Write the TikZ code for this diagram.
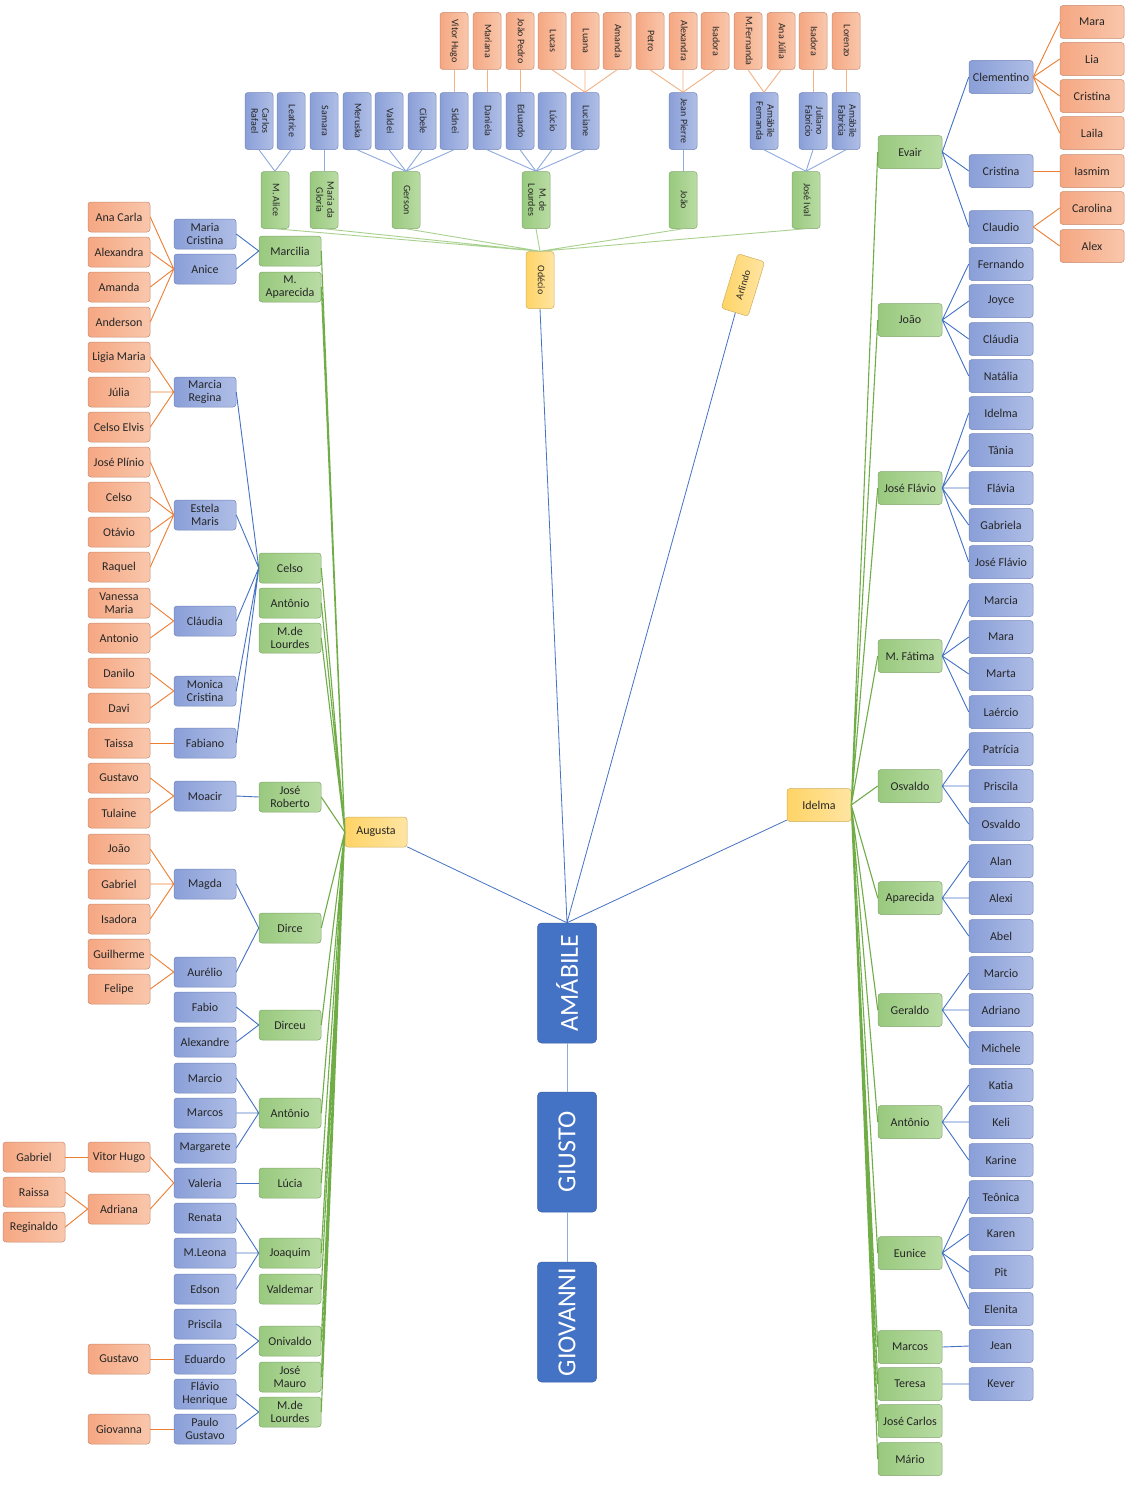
\documentclass[tikz,border=0pt]{standalone}
\usepackage{fontspec}
\setmainfont{Carlito}

\definecolor{ink}{HTML}{262626}
\definecolor{oa}{HTML}{F5A782}
\definecolor{ob}{HTML}{F9C7AC}
\definecolor{od}{HTML}{C98C70}
\definecolor{ba}{HTML}{8A9FD8}
\definecolor{bb}{HTML}{AFBEE6}
\definecolor{bd}{HTML}{7486BC}
\definecolor{ga}{HTML}{99C97E}
\definecolor{gb}{HTML}{B9DCA4}
\definecolor{gd}{HTML}{82A86E}
\definecolor{ya}{HTML}{FFD466}
\definecolor{yb}{HTML}{FFE5A3}
\definecolor{yd}{HTML}{CFAE5C}
\definecolor{main}{HTML}{4472C4}
\definecolor{lo}{HTML}{ED7D31}
\definecolor{lb}{HTML}{4472C4}
\definecolor{lg}{HTML}{70AD47}
\definecolor{llo}{HTML}{F4B183}
\definecolor{llb}{HTML}{8FAADC}
\definecolor{llg}{HTML}{A9D18E}

\newcommand{\vtext}[1]{\rotatebox{-90}{\begin{tabular}{@{}c@{}}#1\end{tabular}}}

\begin{document}
\begin{tikzpicture}[x=1pt, y=-1pt]

    \tikzstyle{box} = [rectangle, rounded corners=3pt, minimum width=62pt, minimum height=30pt, inner sep=1pt, align=center, text=ink, line width=0.5pt, font=\fontsize{12}{13}\selectfont]
    \tikzstyle{obox} = [box, draw=od, left color=oa, right color=ob]
    \tikzstyle{bbox} = [box, draw=bd, left color=ba, right color=bb]
    \tikzstyle{gbox} = [box, draw=gd, left color=ga, right color=gb]
    \tikzstyle{ybox} = [box, draw=yd, left color=ya, right color=yb]
    \tikzstyle{mbox} = [box, rounded corners=4pt, draw=main!85!black, fill=main, text=white, minimum width=59pt, minimum height=120pt, font=\fontsize{26}{28}\selectfont]
    \tikzstyle{rsize} = [minimum width=64pt, minimum height=33pt]
    \tikzstyle{tsize} = [minimum width=28pt, minimum height=57pt, font=\fontsize{10}{11}\selectfont]
    \tikzstyle{oline} = [draw=lo, line width=0.9pt]
    \tikzstyle{bline} = [draw=lb, line width=0.9pt]
    \tikzstyle{gline} = [draw=lg, line width=1.1pt]
    \tikzstyle{toline} = [draw=llo, line width=0.9pt]
    \tikzstyle{tbline} = [draw=llb, line width=0.9pt]
    \tikzstyle{tgline} = [draw=llg, line width=0.9pt]

    \path [use as bounding box, fill=white] (0,0) rectangle (1134,1512);

    % trunk
    \node [mbox] (amabile) at (567,983) {\rotatebox{90}{AMÁBILE}};
    \node [mbox] (giusto) at (567,1152) {\rotatebox{90}{GIUSTO}};
    \node [mbox] (giovanni) at (567,1322) {\rotatebox{90}{GIOVANNI}};
    \node [ybox] (augusta) at (376,832) {Augusta};
    \node [ybox, rsize] (idelma) at (819,805) {Idelma};
    \node [ybox, tsize] (odecio) at (540,280) {\vtext{Odécio}};
    \node [ybox, minimum width=57pt, minimum height=28pt, font=\fontsize{10}{11}\selectfont, rotate=73] (arlindo) at (743,285) {Arlindo};

    % left side, Augusta
    \node [gbox] (marcilia) at (290,251) {Marcilia};
    \node [gbox] (maparecida) at (290,287) {M.\\Aparecida};
    \node [gbox] (celso) at (290,568) {Celso};
    \node [gbox] (antonio) at (290,603) {Antônio};
    \node [gbox] (mlourdes) at (290,638) {M.de\\Lourdes};
    \node [gbox] (joseroberto) at (290,797) {José\\Roberto};
    \node [gbox] (dirce) at (290,928) {Dirce};
    \node [gbox] (dirceu) at (290,1025) {Dirceu};
    \node [gbox] (antonio2) at (290,1113) {Antônio};
    \node [gbox] (lucia) at (290,1183) {Lúcia};
    \node [gbox] (joaquim) at (290,1253) {Joaquim};
    \node [gbox] (valdemar) at (290,1289) {Valdemar};
    \node [gbox] (onivaldo) at (290,1341) {Onivaldo};
    \node [gbox] (josemauro) at (290,1377) {José\\Mauro};
    \node [gbox] (mlourdes2) at (290,1412) {M.de\\Lourdes};

    \node [bbox] (mariacristina) at (205,234) {Maria\\Cristina};
    \node [bbox] (anice) at (205,269) {Anice};
    \node [bbox] (marciaregina) at (205,392) {Marcia\\Regina};
    \node [bbox] (estelamaris) at (205,515) {Estela\\Maris};
    \node [bbox] (claudia) at (205,621) {Cláudia};
    \node [bbox] (monica) at (205,691) {Monica\\Cristina};
    \node [bbox] (fabiano) at (205,743) {Fabiano};
    \node [bbox] (moacir) at (205,796) {Moacir};
    \node [bbox] (magda) at (205,884) {Magda};
    \node [bbox] (aurelio) at (205,972) {Aurélio};
    \node [bbox] (fabio) at (205,1007) {Fabio};
    \node [bbox] (alexandre) at (205,1042) {Alexandre};
    \node [bbox] (marcio) at (205,1078) {Marcio};
    \node [bbox] (marcos) at (205,1113) {Marcos};
    \node [bbox] (margarete) at (205,1148) {Margarete};
    \node [bbox] (valeria) at (205,1183) {Valeria};
    \node [bbox] (renata) at (205,1218) {Renata};
    \node [bbox] (mleona) at (205,1253) {M.Leona};
    \node [bbox] (edson) at (205,1289) {Edson};
    \node [bbox] (priscila) at (205,1324) {Priscila};
    \node [bbox] (eduardo) at (205,1359) {Eduardo};
    \node [bbox] (flavio) at (205,1394) {Flávio\\Henrique};
    \node [bbox] (paulo) at (205,1429) {Paulo\\Gustavo};

    \node [obox] (anacarla) at (119,217) {Ana Carla};
    \node [obox] (alexandra) at (119,252) {Alexandra};
    \node [obox] (amanda) at (119,287) {Amanda};
    \node [obox] (anderson) at (119,322) {Anderson};
    \node [obox] (ligia) at (119,357) {Ligia Maria};
    \node [obox] (julia) at (119,392) {Júlia};
    \node [obox] (celsoelvis) at (119,427) {Celso Elvis};
    \node [obox] (joseplinio) at (119,462) {José Plínio};
    \node [obox] (celso2) at (119,497) {Celso};
    \node [obox] (otavio) at (119,532) {Otávio};
    \node [obox] (raquel) at (119,567) {Raquel};
    \node [obox] (vanessa) at (119,603) {Vanessa\\Maria};
    \node [obox] (antonio4) at (119,638) {Antonio};
    \node [obox] (danilo) at (119,673) {Danilo};
    \node [obox] (davi) at (119,708) {Davi};
    \node [obox] (taissa) at (119,743) {Taissa};
    \node [obox] (gustavo) at (119,778) {Gustavo};
    \node [obox] (tulaine) at (119,813) {Tulaine};
    \node [obox] (joao) at (119,849) {João};
    \node [obox] (gabriel) at (119,884) {Gabriel};
    \node [obox] (isadora) at (119,919) {Isadora};
    \node [obox] (guilherme) at (119,954) {Guilherme};
    \node [obox] (felipe) at (119,989) {Felipe};
    \node [obox] (vitorhugo) at (119,1157) {Vitor Hugo};
    \node [obox] (adriana) at (119,1209) {Adriana};
    \node [obox] (gustavo2) at (119,1359) {Gustavo};
    \node [obox] (giovanna) at (119,1429) {Giovanna};
    \node [obox] (gabriel2) at (34,1157) {Gabriel};
    \node [obox] (raissa) at (34,1192) {Raissa};
    \node [obox] (reginaldo) at (34,1227) {Reginaldo};

    % right side, Idelma
    \node [gbox, rsize] (evair) at (910,152) {Evair};
    \node [gbox, rsize] (joao2) at (910,320) {João};
    \node [gbox, rsize] (joseflavio) at (910,488) {José Flávio};
    \node [gbox, rsize] (mfatima) at (910,656) {M. Fátima};
    \node [gbox, rsize] (osvaldo) at (910,786) {Osvaldo};
    \node [gbox, rsize] (aparecida) at (910,898) {Aparecida};
    \node [gbox, rsize] (geraldo) at (910,1010) {Geraldo};
    \node [gbox, rsize] (antonio3) at (910,1122) {Antônio};
    \node [gbox, rsize] (eunice) at (910,1253) {Eunice};
    \node [gbox, rsize] (marcos2) at (910,1347) {Marcos};
    \node [gbox, rsize] (teresa) at (910,1384) {Teresa};
    \node [gbox, rsize] (josecarlos) at (910,1421) {José Carlos};
    \node [gbox, rsize] (mario) at (910,1459) {Mário};

    \node [bbox, rsize] (clementino) at (1001,77) {Clementino};
    \node [bbox, rsize] (cristina) at (1001,171) {Cristina};
    \node [bbox, rsize] (claudio) at (1001,227) {Claudio};
    \node [bbox, rsize] (fernando) at (1001,264) {Fernando};
    \node [bbox, rsize] (joyce) at (1001,301) {Joyce};
    \node [bbox, rsize] (claudia2) at (1001,339) {Cláudia};
    \node [bbox, rsize] (natalia) at (1001,376) {Natália};
    \node [bbox, rsize] (idelma2) at (1001,413) {Idelma};
    \node [bbox, rsize] (tania) at (1001,450) {Tânia};
    \node [bbox, rsize] (flavia) at (1001,488) {Flávia};
    \node [bbox, rsize] (gabriela) at (1001,525) {Gabriela};
    \node [bbox, rsize] (joseflavio2) at (1001,562) {José Flávio};
    \node [bbox, rsize] (marcia) at (1001,600) {Marcia};
    \node [bbox, rsize] (mara2) at (1001,637) {Mara};
    \node [bbox, rsize] (marta) at (1001,674) {Marta};
    \node [bbox, rsize] (laercio) at (1001,712) {Laércio};
    \node [bbox, rsize] (patricia) at (1001,749) {Patrícia};
    \node [bbox, rsize] (priscila2) at (1001,786) {Priscila};
    \node [bbox, rsize] (osvaldo2) at (1001,824) {Osvaldo};
    \node [bbox, rsize] (alan) at (1001,861) {Alan};
    \node [bbox, rsize] (alexi) at (1001,898) {Alexi};
    \node [bbox, rsize] (abel) at (1001,936) {Abel};
    \node [bbox, rsize] (marcio2) at (1001,973) {Marcio};
    \node [bbox, rsize] (adriano) at (1001,1010) {Adriano};
    \node [bbox, rsize] (michele) at (1001,1048) {Michele};
    \node [bbox, rsize] (katia) at (1001,1085) {Katia};
    \node [bbox, rsize] (keli) at (1001,1122) {Keli};
    \node [bbox, rsize] (karine) at (1001,1160) {Karine};
    \node [bbox, rsize] (teonica) at (1001,1197) {Teônica};
    \node [bbox, rsize] (karen) at (1001,1234) {Karen};
    \node [bbox, rsize] (pit) at (1001,1272) {Pit};
    \node [bbox, rsize] (elenita) at (1001,1309) {Elenita};
    \node [bbox, rsize] (jean) at (1001,1346) {Jean};
    \node [bbox, rsize] (kever) at (1001,1384) {Kever};

    \node [obox, rsize] (mara) at (1092,22) {Mara};
    \node [obox, rsize] (lia) at (1092,59) {Lia};
    \node [obox, rsize] (cristina2) at (1092,96) {Cristina};
    \node [obox, rsize] (laila) at (1092,133) {Laila};
    \node [obox, rsize] (iasmim) at (1092,171) {Iasmim};
    \node [obox, rsize] (carolina) at (1092,208) {Carolina};
    \node [obox, rsize] (alex) at (1092,246) {Alex};

    % top, Odécio
    \node [gbox, tsize] (malice) at (275,200) {\vtext{M. Alice}};
    \node [gbox, tsize] (mariagloria) at (324,200) {\vtext{Maria da\\Gloria}};
    \node [gbox, tsize] (gerson) at (406,200) {\vtext{Gerson}};
    \node [gbox, tsize] (mlourdes3) at (536,200) {\vtext{M. de\\Lourdes}};
    \node [gbox, tsize] (joao3) at (683,200) {\vtext{João}};
    \node [gbox, tsize] (joseival) at (806,200) {\vtext{José Ival}};

    \node [bbox, tsize] (carlos) at (259,121) {\vtext{Carlos\\Rafael}};
    \node [bbox, tsize] (leatrice) at (291,121) {\vtext{Leatrice}};
    \node [bbox, tsize] (samara) at (324,121) {\vtext{Samara}};
    \node [bbox, tsize] (meruska) at (357,121) {\vtext{Meruska}};
    \node [bbox, tsize] (valdei) at (389,121) {\vtext{Valdei}};
    \node [bbox, tsize] (cibele) at (422,121) {\vtext{Cibele}};
    \node [bbox, tsize] (sidnei) at (454,121) {\vtext{Sidnei}};
    \node [bbox, tsize] (daniela) at (487,121) {\vtext{Daniela}};
    \node [bbox, tsize] (eduardo2) at (520,121) {\vtext{Eduardo}};
    \node [bbox, tsize] (lucio) at (552,121) {\vtext{Lúcio}};
    \node [bbox, tsize] (luciane) at (585,121) {\vtext{Luciane}};
    \node [bbox, tsize] (jeanpierre) at (683,121) {\vtext{Jean Pierre}};
    \node [bbox, tsize] (amafernanda) at (764,121) {\vtext{Amábile\\Fernanda}};
    \node [bbox, tsize] (juliano) at (813,121) {\vtext{Juliano\\Fabrício}};
    \node [bbox, tsize] (amafabricia) at (846,121) {\vtext{Amábile\\Fabrícia}};

    \node [obox, tsize] (vitorhugo2) at (454,41) {\vtext{Vitor Hugo}};
    \node [obox, tsize] (mariana) at (487,41) {\vtext{Mariana}};
    \node [obox, tsize] (joaopedro) at (520,41) {\vtext{João Pedro}};
    \node [obox, tsize] (lucas) at (552,41) {\vtext{Lucas}};
    \node [obox, tsize] (luana) at (585,41) {\vtext{Luana}};
    \node [obox, tsize] (amanda2) at (617,41) {\vtext{Amanda}};
    \node [obox, tsize] (petro) at (650,41) {\vtext{Petro}};
    \node [obox, tsize] (alexandra2) at (683,41) {\vtext{Alexandra}};
    \node [obox, tsize] (isadora2) at (715,41) {\vtext{Isadora}};
    \node [obox, tsize] (mfernanda) at (748,41) {\vtext{M.Fernanda}};
    \node [obox, tsize] (anajulia) at (781,41) {\vtext{Ana Júlia}};
    \node [obox, tsize] (isadora3) at (813,41) {\vtext{Isadora}};
    \node [obox, tsize] (lorenzo) at (846,41) {\vtext{Lorenzo}};

    % trunk lines
    \draw [tbline] (amabile.south) -- (giusto.north) (giusto.south) -- (giovanni.north);
    \draw [bline, line width=0.8pt] (odecio.south) -- (amabile.north) (arlindo) -- (amabile.north) (augusta) -- (amabile.north) (idelma) -- (amabile.north);

    % left lines
    \draw [gline] (marcilia.east) -- (augusta.west) (maparecida.east) -- (augusta.west) (celso.east) -- (augusta.west) (antonio.east) -- (augusta.west) (mlourdes.east) -- (augusta.west);
    \draw [gline] (joseroberto.east) -- (augusta.west) (dirce.east) -- (augusta.west) (dirceu.east) -- (augusta.west) (antonio2.east) -- (augusta.west) (lucia.east) -- (augusta.west);
    \draw [gline] (joaquim.east) -- (augusta.west) (valdemar.east) -- (augusta.west) (onivaldo.east) -- (augusta.west) (josemauro.east) -- (augusta.west) (mlourdes2.east) -- (augusta.west);

    \draw [bline] (mariacristina.east) -- (marcilia.west) (anice.east) -- (marcilia.west);
    \draw [bline] (marciaregina.east) -- (celso.west) (estelamaris.east) -- (celso.west) (claudia.east) -- (celso.west) (monica.east) -- (celso.west) (fabiano.east) -- (celso.west);
    \draw [bline] (moacir.east) -- (joseroberto.west);
    \draw [bline] (magda.east) -- (dirce.west) (aurelio.east) -- (dirce.west);
    \draw [bline] (fabio.east) -- (dirceu.west) (alexandre.east) -- (dirceu.west);
    \draw [bline] (marcio.east) -- (antonio2.west) (marcos.east) -- (antonio2.west) (margarete.east) -- (antonio2.west);
    \draw [bline] (valeria.east) -- (lucia.west);
    \draw [bline] (renata.east) -- (joaquim.west) (mleona.east) -- (joaquim.west) (edson.east) -- (joaquim.west);
    \draw [bline] (priscila.east) -- (onivaldo.west) (eduardo.east) -- (onivaldo.west);
    \draw [bline] (flavio.east) -- (mlourdes2.west) (paulo.east) -- (mlourdes2.west);

    \draw [oline] (anacarla.east) -- (anice.west) (alexandra.east) -- (anice.west) (amanda.east) -- (anice.west) (anderson.east) -- (anice.west);
    \draw [oline] (ligia.east) -- (marciaregina.west) (julia.east) -- (marciaregina.west) (celsoelvis.east) -- (marciaregina.west);
    \draw [oline] (joseplinio.east) -- (estelamaris.west) (celso2.east) -- (estelamaris.west) (otavio.east) -- (estelamaris.west) (raquel.east) -- (estelamaris.west);
    \draw [oline] (vanessa.east) -- (claudia.west) (antonio4.east) -- (claudia.west);
    \draw [oline] (danilo.east) -- (monica.west) (davi.east) -- (monica.west);
    \draw [oline] (taissa.east) -- (fabiano.west);
    \draw [oline] (gustavo.east) -- (moacir.west) (tulaine.east) -- (moacir.west);
    \draw [oline] (joao.east) -- (magda.west) (gabriel.east) -- (magda.west) (isadora.east) -- (magda.west);
    \draw [oline] (guilherme.east) -- (aurelio.west) (felipe.east) -- (aurelio.west);
    \draw [oline] (vitorhugo.east) -- (valeria.west) (adriana.east) -- (valeria.west);
    \draw [oline] (gabriel2.east) -- (vitorhugo.west);
    \draw [oline] (raissa.east) -- (adriana.west) (reginaldo.east) -- (adriana.west);
    \draw [oline] (gustavo2.east) -- (eduardo.west);
    \draw [oline] (giovanna.east) -- (paulo.west);

    % right lines
    \draw [gline] (idelma.east) -- (evair.west) (idelma.east) -- (joao2.west) (idelma.east) -- (joseflavio.west) (idelma.east) -- (mfatima.west) (idelma.east) -- (osvaldo.west);
    \draw [gline] (idelma.east) -- (aparecida.west) (idelma.east) -- (geraldo.west) (idelma.east) -- (antonio3.west) (idelma.east) -- (eunice.west);
    \draw [gline] (idelma.east) -- (marcos2.west) (idelma.east) -- (teresa.west) (idelma.east) -- (josecarlos.west) (idelma.east) -- (mario.west);

    \draw [bline] (evair.east) -- (clementino.west) (evair.east) -- (cristina.west) (evair.east) -- (claudio.west);
    \draw [bline] (joao2.east) -- (fernando.west) (joao2.east) -- (joyce.west) (joao2.east) -- (claudia2.west) (joao2.east) -- (natalia.west);
    \draw [bline] (joseflavio.east) -- (idelma2.west) (joseflavio.east) -- (tania.west) (joseflavio.east) -- (flavia.west) (joseflavio.east) -- (gabriela.west) (joseflavio.east) -- (joseflavio2.west);
    \draw [bline] (mfatima.east) -- (marcia.west) (mfatima.east) -- (mara2.west) (mfatima.east) -- (marta.west) (mfatima.east) -- (laercio.west);
    \draw [bline] (osvaldo.east) -- (patricia.west) (osvaldo.east) -- (priscila2.west) (osvaldo.east) -- (osvaldo2.west);
    \draw [bline] (aparecida.east) -- (alan.west) (aparecida.east) -- (alexi.west) (aparecida.east) -- (abel.west);
    \draw [bline] (geraldo.east) -- (marcio2.west) (geraldo.east) -- (adriano.west) (geraldo.east) -- (michele.west);
    \draw [bline] (antonio3.east) -- (katia.west) (antonio3.east) -- (keli.west) (antonio3.east) -- (karine.west);
    \draw [bline] (eunice.east) -- (teonica.west) (eunice.east) -- (karen.west) (eunice.east) -- (pit.west) (eunice.east) -- (elenita.west);
    \draw [bline] (marcos2.east) -- (jean.west) (teresa.east) -- (kever.west);

    \draw [oline] (clementino.east) -- (mara.west) (clementino.east) -- (lia.west) (clementino.east) -- (cristina2.west) (clementino.east) -- (laila.west);
    \draw [oline] (cristina.east) -- (iasmim.west);
    \draw [oline] (claudio.east) -- (carolina.west) (claudio.east) -- (alex.west);

    % top lines
    \draw [tgline] (malice.south) -- (odecio.north) (mariagloria.south) -- (odecio.north) (gerson.south) -- (odecio.north) (mlourdes3.south) -- (odecio.north) (joao3.south) -- (odecio.north) (joseival.south) -- (odecio.north);

    \draw [tbline] (carlos.south) -- (malice.north) (leatrice.south) -- (malice.north);
    \draw [tbline] (samara.south) -- (mariagloria.north);
    \draw [tbline] (meruska.south) -- (gerson.north) (valdei.south) -- (gerson.north) (cibele.south) -- (gerson.north) (sidnei.south) -- (gerson.north);
    \draw [tbline] (daniela.south) -- (mlourdes3.north) (eduardo2.south) -- (mlourdes3.north) (lucio.south) -- (mlourdes3.north) (luciane.south) -- (mlourdes3.north);
    \draw [tbline] (jeanpierre.south) -- (joao3.north);
    \draw [tbline] (amafernanda.south) -- (joseival.north) (juliano.south) -- (joseival.north) (amafabricia.south) -- (joseival.north);

    \draw [toline] (vitorhugo2.south) -- (sidnei.north);
    \draw [toline] (mariana.south) -- (daniela.north);
    \draw [toline] (joaopedro.south) -- (eduardo2.north);
    \draw [toline] (lucas.south) -- (luciane.north) (luana.south) -- (luciane.north) (amanda2.south) -- (luciane.north);
    \draw [toline] (petro.south) -- (jeanpierre.north) (alexandra2.south) -- (jeanpierre.north) (isadora2.south) -- (jeanpierre.north);
    \draw [toline] (mfernanda.south) -- (amafernanda.north) (anajulia.south) -- (amafernanda.north);
    \draw [toline] (isadora3.south) -- (juliano.north);
    \draw [toline] (lorenzo.south) -- (amafabricia.north);

\end{tikzpicture}
\end{document}
